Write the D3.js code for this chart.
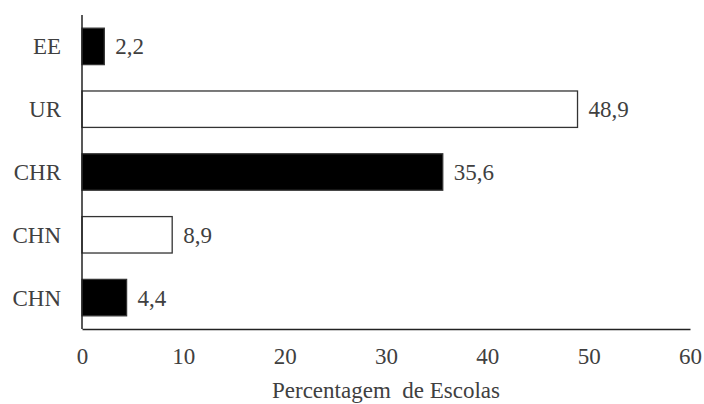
<!DOCTYPE html>
<html>
<head>
<meta charset="utf-8">
<script src="https://cdn.jsdelivr.net/npm/d3@7"></script>
<style>
  html, body { margin: 0; padding: 0; background: #fff; }
</style>
</head>
<body>
<div id="chart"></div>
<script>
(function () {
  const categories = ["EE", "UR", "CHR", "CHN", "CHN"];
  const values = [2.2, 48.9, 35.6, 8.9, 4.4];
  const fills = ["#000", "#fff", "#000", "#fff", "#000"];
  const tickValues = [0, 10, 20, 30, 40, 50, 60];
  const valueLabels = ["2,2", "48,9", "35,6", "8,9", "4,4"];
  const axisTitle = "Percentagem  de Escolas";

  const width = 704;
  const height = 404;
  const fontSize = 23;
  const serif = "'Liberation Serif', 'Times New Roman', Times, serif";
  const textColor = "#404040";

  const svg = d3.select("#chart")
    .append("svg")
    .attr("width", width)
    .attr("height", height);

  const x = d3.scaleLinear().domain([0, 60]).range([82, 690]);
  const y = d3.scaleBand()
    .domain(d3.range(categories.length))
    .range([15, 329])
    .paddingInner(0.42)
    .paddingOuter(0.21);

  // bars
  svg.append("g")
    .selectAll("rect")
    .data(values)
    .join("rect")
    .attr("x", x(0))
    .attr("y", (d, i) => y(i))
    .attr("width", (d) => x(d) - x(0))
    .attr("height", y.bandwidth())
    .attr("fill", (d, i) => fills[i])
    .attr("stroke", "#333")
    .attr("stroke-width", 1.3);

  // value labels
  svg.append("g")
    .selectAll("text")
    .data(values)
    .join("text")
    .attr("x", (d) => x(d) + 11)
    .attr("y", (d, i) => y(i) + y.bandwidth() / 2)
    .attr("dy", "0.35em")
    .style("font-family", serif)
    .style("font-size", fontSize + "px")
    .style("fill", textColor)
    .text((d, i) => valueLabels[i]);

  // category labels
  svg.append("g")
    .selectAll("text")
    .data(categories)
    .join("text")
    .attr("x", 61)
    .attr("y", (d, i) => y(i) + y.bandwidth() / 2)
    .attr("dy", "0.35em")
    .attr("text-anchor", "end")
    .style("font-family", serif)
    .style("font-size", fontSize + "px")
    .style("fill", textColor)
    .text((d) => d);

  // x axis
  const xAxis = svg.append("g")
    .attr("transform", "translate(0,329)")
    .call(d3.axisBottom(x).tickValues(tickValues).tickSize(0).tickPadding(19).tickFormat(d3.format("d")));
  xAxis.select(".domain").attr("stroke", "#222").attr("stroke-width", 1.5);
  xAxis.selectAll("text")
    .style("font-family", serif)
    .style("font-size", fontSize + "px")
    .style("fill", textColor);

  // y axis line
  svg.append("line")
    .attr("x1", x(0))
    .attr("x2", x(0))
    .attr("y1", 15)
    .attr("y2", 329)
    .attr("stroke", "#222")
    .attr("stroke-width", 1.5);

  svg.append("text")
    .attr("x", (x(0) + x(60)) / 2)
    .attr("y", 398)
    .attr("text-anchor", "middle")
    .style("font-family", serif)
    .style("font-size", fontSize + "px")
    .style("fill", textColor)
    .style("white-space", "pre")
    .text(axisTitle);
}());
</script>
</body>
</html>
